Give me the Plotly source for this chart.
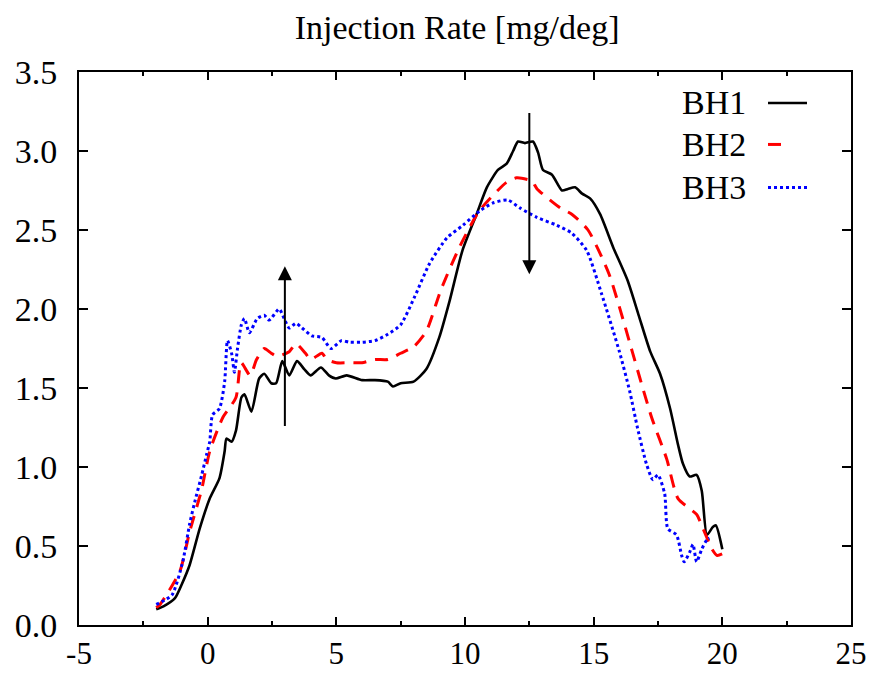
import plotly.graph_objects as go

# ---- data ----
bh1_x = [-2.0, -1.7, -1.27, -1.0, -0.7, -0.31, 0.08, 0.46, 0.66, 0.73, 0.93, 1.1, 1.31, 1.43, 1.7,
         2.0, 2.2, 2.47, 2.66, 2.9, 3.17, 3.47, 3.75, 4.0, 4.4, 4.71, 4.98, 5.4, 6.0, 6.5, 7.0, 7.2,
         7.5, 8.0, 8.5, 9.0, 9.4, 9.9, 10.45, 10.85, 11.28, 11.62, 11.87, 12.06, 12.33, 12.64, 12.84,
         13.03, 13.38, 13.77, 14.0, 14.28, 14.55, 14.86, 15.25, 15.76, 16.32, 16.75, 17.2, 17.58,
         17.97, 18.28, 18.47, 18.73, 19.0, 19.2, 19.4, 19.63, 19.75, 20.0]
bh1_y = [0.10, 0.12, 0.17, 0.26, 0.38, 0.61, 0.80, 0.93, 1.10, 1.18, 1.16, 1.23, 1.44, 1.46, 1.35,
         1.56, 1.59, 1.53, 1.53, 1.67, 1.58, 1.67, 1.62, 1.58, 1.63, 1.58, 1.56, 1.58, 1.55, 1.55, 1.54, 1.51,
         1.53, 1.54, 1.62, 1.82, 2.05, 2.37, 2.60, 2.77, 2.88, 2.92, 3.00, 3.06, 3.05, 3.06, 2.99,
         2.88, 2.85, 2.75, 2.76, 2.77, 2.73, 2.70, 2.60, 2.39, 2.18, 1.96, 1.73, 1.59,
         1.37, 1.14, 1.02, 0.94, 0.95, 0.85, 0.57, 0.62, 0.63, 0.48]

bh2_x = [-2.0, -1.85, -1.08, -0.7, -0.23, 0.08, 0.58, 1.1, 1.3, 1.65, 1.9, 2.2, 2.47, 2.7, 3.17,
         3.43, 3.8, 4.0, 4.44, 4.63, 5.0, 5.5, 6.0, 6.5, 7.0, 7.5, 8.0, 8.5, 9.06, 9.78, 10.55,
         11.6, 12.0, 12.6, 12.8, 13.7, 14.15, 14.78, 15.6, 16.5, 16.8, 17.26, 17.84, 18.28, 19.0,
         19.2, 19.6, 19.8, 20.0]
bh2_y = [0.11, 0.13, 0.34, 0.59, 0.86, 1.10, 1.31, 1.44, 1.66, 1.58, 1.68, 1.75, 1.72, 1.70, 1.73,
         1.78, 1.72, 1.68, 1.72, 1.68, 1.66, 1.66, 1.66, 1.68, 1.68, 1.72, 1.76, 1.86, 2.12, 2.39, 2.62,
         2.80, 2.83, 2.81, 2.76, 2.64, 2.60, 2.50, 2.22, 1.73, 1.56, 1.31, 1.05, 0.80, 0.70,
         0.63, 0.48, 0.44, 0.45]

bh3_x = [-2.0, -1.39, -0.97, -0.7, -0.5, -0.23, -0.04, 0.08, 0.19, 0.46, 0.66, 0.77, 0.93, 1.04,
         1.16, 1.31, 1.43, 1.62, 1.93, 2.2, 2.39, 2.78, 2.97, 3.17, 3.43, 3.67, 4.05, 4.44, 4.79,
         5.2, 5.5, 6.0, 6.5, 7.0, 7.5, 8.05, 8.63, 9.3, 9.92, 10.57, 11.07, 11.66, 12.13, 12.79,
         13.57, 14.15, 14.73, 15.3, 16.0, 16.4, 16.7, 17.05, 17.3, 17.5, 17.76, 17.88, 18.22,
         18.42, 18.52, 18.73, 18.86, 19.0, 19.2, 19.4, 19.5]
bh3_y = [0.13, 0.19, 0.40, 0.64, 0.78, 0.95, 1.08, 1.16, 1.33, 1.37, 1.54, 1.80, 1.72, 1.60,
         1.75, 1.90, 1.94, 1.85, 1.94, 1.96, 1.93, 2.00, 1.94, 1.88, 1.91, 1.88, 1.83, 1.82, 1.75,
         1.80, 1.79, 1.79, 1.80, 1.84, 1.90, 2.08, 2.29, 2.45, 2.53, 2.62, 2.67, 2.69, 2.64, 2.58,
         2.53, 2.48, 2.37, 2.10, 1.73, 1.48, 1.25, 1.02, 0.92, 0.95, 0.83, 0.61, 0.57,
         0.44, 0.40, 0.46, 0.51, 0.40, 0.48, 0.54, 0.55]

series_names = ["BH1", "BH2", "BH3"]
title_text = "Injection Rate [mg/deg]"
x_ticks = [-5, 0, 5, 10, 15, 20, 25]
x_ticktext = ["-5", "0", "5", "10", "15", "20", "25"]
y_ticks = [0.0, 0.5, 1.0, 1.5, 2.0, 2.5, 3.0, 3.5]

# arrows: (x, y_tail, y_head)
arrow_up = (3.0, 1.25, 2.27)
arrow_down = (12.5, 3.25, 2.22)

FONT = "Liberation Serif, Times New Roman, serif"

fig = go.Figure()
fig.add_trace(go.Scatter(x=bh1_x, y=bh1_y, mode="lines", name=series_names[0],
                         line=dict(color="black", width=2.6, shape="spline", smoothing=0.6)))
fig.add_trace(go.Scatter(x=bh2_x, y=bh2_y, mode="lines", name=series_names[1],
                         line=dict(color="#ff0000", width=3, dash="13px,9px", shape="spline", smoothing=0.6)))
fig.add_trace(go.Scatter(x=bh3_x, y=bh3_y, mode="lines", name=series_names[2],
                         line=dict(color="#0000ff", width=3, dash="3px,3px", shape="spline", smoothing=0.6)))

# arrows
for (ax_x, y_tail, y_head) in [arrow_up, arrow_down]:
    fig.add_annotation(x=ax_x, y=y_head, ax=ax_x, ay=y_tail, xref="x", yref="y",
                       axref="x", ayref="y", showarrow=True, arrowhead=2, arrowsize=1.4,
                       arrowwidth=2, arrowcolor="black", text="")

# legend drawn in gnuplot style: text then sample to the right
leg_y = [0.944, 0.869, 0.791]
leg_styles = [dict(color="black", width=2.6, dash="solid"),
              dict(color="#ff0000", width=3, dash="13px,40px"),
              dict(color="#0000ff", width=3, dash="3px,3px")]
for name, yy, st in zip(series_names, leg_y, leg_styles):
    fig.add_annotation(x=0.867, y=yy, xref="paper", yref="paper", text=name, showarrow=False,
                       xanchor="right", yanchor="middle", font=dict(family=FONT, size=34, color="black"))
    fig.add_shape(type="line", xref="paper", yref="paper", x0=0.8925, x1=0.943, y0=yy, y1=yy,
                  line=st)

axis_common = dict(showline=True, linecolor="black", linewidth=2, mirror="ticks",
                   ticks="inside", tickcolor="black", tickwidth=2, showgrid=False, zeroline=False,
                   automargin=False)

fig.update_xaxes(range=[-5, 25], tickvals=x_ticks, ticktext=x_ticktext, ticklen=8,
                 ticklabelstandoff=0,
                 tickfont=dict(family=FONT, size=31, color="black"),
                 minor=dict(dtick=2.5, tick0=-5, ticks="inside", ticklen=4, tickcolor="black", tickwidth=2),
                 **axis_common)
fig.update_yaxes(range=[0, 3.5], tickvals=y_ticks, ticktext=[f"{v:.1f}" for v in y_ticks], ticklen=9,
                 ticklabelstandoff=13,
                 tickfont=dict(family=FONT, size=34, color="black"),
                 **axis_common)

fig.update_layout(
    width=874, height=677,
    margin=dict(l=79, r=23, t=72, b=52),
    paper_bgcolor="white", plot_bgcolor="white",
    showlegend=False,
    title=dict(text=title_text, x=0.523, xanchor="center", y=0.96, yanchor="middle", yref="container",
               font=dict(family=FONT, size=34, color="black")),
)

fig.write_html("out.html")
